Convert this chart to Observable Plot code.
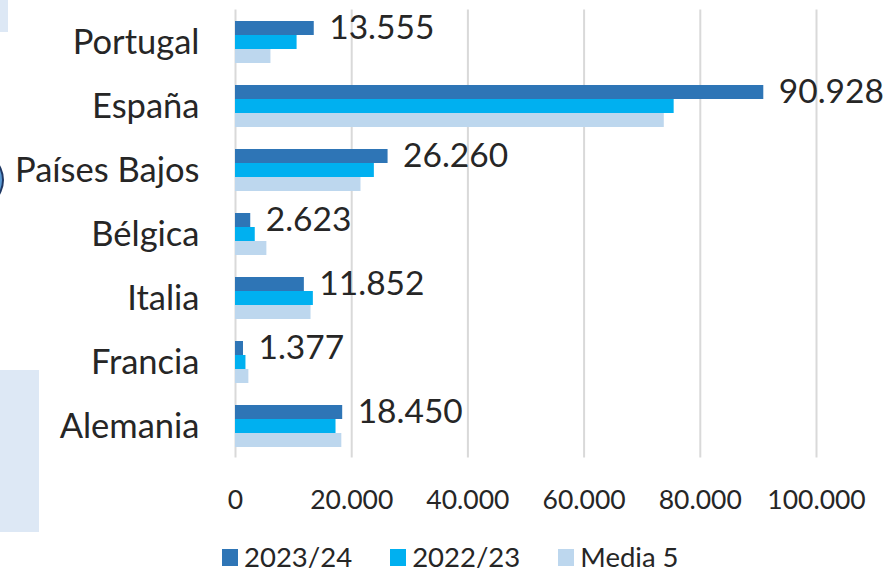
<!DOCTYPE html>
<html>
<head>
<meta charset="utf-8">
<script src="https://cdn.jsdelivr.net/npm/d3@7"></script>
<script src="https://cdn.jsdelivr.net/npm/@observablehq/plot@0.6"></script>
<style>
  html, body { margin: 0; padding: 0; background: #fff; }
  body { width: 889px; height: 574px; position: relative; overflow: hidden; font-family: Lato, "Open Sans", sans-serif; }
  #chart { position: absolute; left: 0; top: 0; }
  .deco1 { position: absolute; left: 0; top: 0; width: 8px; height: 32px; background: #dde8f5; }
  .deco2 { position: absolute; left: 0; top: 370px; width: 39px; height: 162px; background: #dde8f5; }
  .deco3 { position: absolute; left: -62px; top: 149px; width: 62px; height: 58px; border-radius: 50%; background: #5b9bd5; border: 2px solid #1f3864; }
  #legend { position: absolute; top: 543px; left: 222px; display: flex; align-items: center; font-size: 27.5px; line-height: 28px; color: #262626; }
  #legend .item { display: flex; align-items: center; margin-right: 38px; }
  #legend .sw { width: 16px; height: 17px; margin-right: 6px; }
</style>
</head>
<body>
<div class="deco1"></div>
<div class="deco2"></div>
<div class="deco3"></div>
<div id="chart"></div>
<div id="legend"></div>
<script>
const countries = ["Portugal", "España", "Países Bajos", "Bélgica", "Italia", "Francia", "Alemania"];
const series = ["2023/24", "2022/23", "Media 5"];
const v2023_24 = [13555, 90928, 26260, 2623, 11852, 1377, 18450];
const v2022_23 = [10600, 75500, 23900, 3400, 13400, 1800, 17300];
const media5 = [6100, 73800, 21600, 5400, 13000, 2300, 18300];
const labels2023_24 = ["13.555", "90.928", "26.260", "2.623", "11.852", "1.377", "18.450"];
const xTicks = [0, 20000, 40000, 60000, 80000, 100000];
const colors = ["#2e75b6", "#00b0f0", "#bdd7ee"];

const values = [v2023_24, v2022_23, media5];
const rows = [];
countries.forEach((c, i) => series.forEach((s, j) => rows.push({country: c, series: s, value: values[j][i], label: labels2023_24[i]})));

const fmt = d => d3.format(",")(d).replace(/,/g, ".");

const barMarks = series.map((s, j) =>
  Plot.barX(rows.filter(r => r.series === s), {
    x: "value", y: "country", fill: colors[j],
    insetTop: 11 + 14 * j, insetBottom: 39 - 14 * j
  })
);

const chart = Plot.plot({
  width: 889,
  height: 530,
  marginLeft: 235,
  marginRight: 73,
  marginTop: 9.5,
  marginBottom: 72.5,
  style: {fontFamily: "Lato, 'Open Sans', sans-serif", color: "#262626", background: "transparent"},
  x: {domain: [0, 100000], ticks: xTicks, tickFormat: fmt, tickSize: 0, tickPadding: 32, label: null},
  y: {domain: countries, padding: 0, tickSize: 0, tickPadding: 36, label: null},
  marks: [
    Plot.ruleX(xTicks, {stroke: "#d9d9d9", strokeWidth: 2}),
    ...barMarks,
    Plot.text(rows.filter(r => r.series === "2023/24"), {
      x: "value", y: "country", text: "label", textAnchor: "start",
      dx: 15, dy: -14, fontSize: 33.5, fill: "#262626"
    }),
    Plot.axisX({ticks: xTicks, tickFormat: fmt, tickSize: 0, tickPadding: 32, fontSize: 26.5, label: null}),
    Plot.axisY({tickSize: 0, tickPadding: 36, fontSize: 34.5, label: null})
  ]
});
document.getElementById("chart").appendChild(chart);

const legend = document.getElementById("legend");
series.forEach((s, j) => {
  const item = document.createElement("div");
  item.className = "item";
  const sw = document.createElement("div");
  sw.className = "sw";
  sw.style.background = colors[j];
  const t = document.createElement("span");
  t.textContent = s;
  item.appendChild(sw);
  item.appendChild(t);
  legend.appendChild(item);
});
</script>
</body>
</html>
